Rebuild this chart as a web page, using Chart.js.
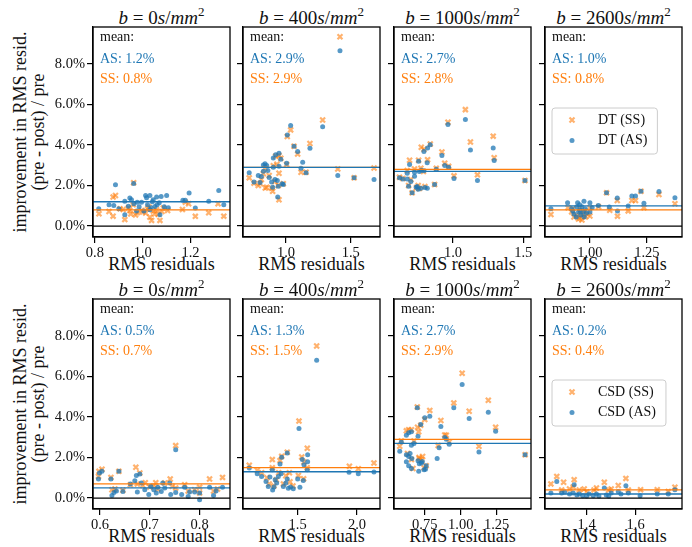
<!DOCTYPE html>
<html>
<head>
<meta charset="utf-8">
<script src="https://cdn.jsdelivr.net/npm/chart.js@4"></script>
<style>
  body { margin: 0; background: #fff; }
  #wrap { position: relative; width: 692px; height: 547px; font-family: 'Liberation Serif', 'Times New Roman', serif; color: #111; overflow: hidden; }
  canvas { position: absolute; }
  .ttl { position: absolute; width: 137px; text-align: center; font-size: 19px; line-height: 20px; white-space: nowrap; }
  .ttl sup { font-size: 13px; line-height: 0; vertical-align: 8px; }
  .xl { position: absolute; width: 137px; text-align: center; font-size: 18px; line-height: 20px; white-space: nowrap; }
  .yl { position: absolute; width: 230px; height: 36px; text-align: center; font-size: 18px; line-height: 18px; transform: rotate(-90deg); white-space: nowrap; }
</style>
</head>
<body>
<div id="wrap"></div>
<script>
// ---- data ----
const models = ['DT', 'CSD'];
const bValues = [0, 400, 1000, 2600];
const yTicks = [0, 2, 4, 6, 8];
const yTickLabels = ['0.0%', '2.0%', '4.0%', '6.0%', '8.0%'];
const xTickLabels = [
  [['0.8', '1.0', '1.2'], ['1.0', '1.5'], ['1.0', '1.5'], ['1.00', '1.25']],
  [['0.6', '0.7', '0.8'], ['1.5', '2.0'], ['0.75', '1.00', '1.25'], ['1.4', '1.6']]
];
const meanAS = [[1.2, 2.9, 2.7, 1.0], [0.5, 1.3, 2.7, 0.2]];
const meanSS = [[0.8, 2.9, 2.8, 0.8], [0.7, 1.5, 2.9, 0.4]];

// [RMS residuals, improvement %]
const dt0_as = [[0.816,0.86],[0.859,1.05],[0.879,1.02],[0.886,2.04],[0.925,1.23],[0.946,1.38],[0.953,1.30],[0.962,2.10],[0.963,1.10],[0.977,1.17],[0.995,1.17],[1.012,1.51],[1.016,1.40],[1.030,1.51],[1.044,1.30],[1.058,1.43],[1.077,1.46],[1.100,1.51],[1.069,1.15],[1.051,0.97],[1.030,0.81],[1.072,0.56],[1.005,0.74],[0.974,0.74],[0.925,0.56],[1.107,0.91],[1.168,1.27],[1.178,1.27],[1.194,1.63],[1.220,0.89],[1.276,1.22],[1.318,1.76],[1.339,1.05],[0.900,0.85],[0.940,0.98],[1.020,1.05],[1.040,1.20],[1.060,1.05],[0.985,0.95],[1.090,0.95],[1.035,0.90]];
const dt0_ss = [[0.817,0.61],[0.859,0.72],[0.876,1.43],[0.886,1.51],[0.876,0.49],[0.918,0.82],[0.925,0.32],[0.946,0.77],[0.962,2.14],[0.960,1.05],[0.977,0.66],[0.995,0.77],[1.012,0.64],[1.026,0.94],[1.030,0.44],[1.037,0.28],[1.044,0.74],[1.058,0.81],[1.065,0.58],[1.072,0.28],[1.086,0.89],[1.104,0.77],[1.166,0.82],[1.178,1.18],[1.192,1.10],[1.220,0.48],[1.276,0.66],[1.315,1.10],[1.339,0.49],[0.950,0.60],[0.970,0.55],[1.000,0.70],[1.020,0.85],[1.050,0.60],[1.080,0.72],[0.940,0.90],[0.905,0.85]];
const dt400_as = [[0.716,2.63],[0.753,2.17],[0.786,2.50],[0.800,2.15],[0.825,2.71],[0.825,3.01],[0.838,3.08],[0.851,2.99],[0.889,2.17],[0.897,1.92],[0.902,2.90],[0.902,3.36],[0.920,3.52],[0.946,3.60],[0.946,2.95],[0.933,2.25],[0.940,1.97],[0.936,1.43],[0.971,2.09],[0.979,2.05],[1.010,4.50],[1.036,4.96],[1.062,3.94],[1.090,3.68],[1.005,3.10],[1.129,3.15],[1.116,2.86],[1.155,2.63],[1.185,3.84],[1.283,4.91],[1.417,8.66],[1.400,2.50],[1.526,2.38],[1.680,2.30],[0.810,2.45],[0.870,2.40],[0.915,2.30],[0.960,3.30],[0.860,2.75]];
const dt400_ss = [[0.716,2.38],[0.753,2.12],[0.786,2.00],[0.800,2.10],[0.825,2.58],[0.838,2.85],[0.851,1.92],[0.840,1.88],[0.889,1.87],[0.897,1.72],[0.902,2.98],[0.920,3.45],[0.946,3.48],[0.946,2.61],[0.946,1.30],[0.979,2.09],[1.010,4.42],[1.036,4.75],[1.062,3.94],[1.090,3.56],[1.005,3.04],[1.116,2.66],[1.155,2.66],[1.185,4.08],[1.283,5.24],[1.417,9.35],[1.400,2.82],[1.526,2.38],[1.680,2.87],[0.810,2.30],[0.870,2.50],[0.915,2.20],[0.940,2.00],[0.960,3.35],[0.930,3.05]];
const dt1000_as = [[0.619,2.38],[0.643,2.33],[0.674,2.61],[0.674,2.33],[0.684,1.96],[0.691,3.04],[0.709,1.64],[0.726,2.66],[0.726,2.46],[0.738,1.92],[0.752,1.82],[0.755,3.20],[0.771,1.87],[0.774,2.76],[0.793,3.68],[0.793,2.73],[0.817,1.87],[0.816,3.13],[0.819,3.86],[0.838,4.02],[0.869,2.05],[0.881,2.81],[0.921,3.48],[0.941,2.99],[0.964,5.01],[0.969,2.91],[1.007,2.35],[1.088,5.26],[1.124,3.76],[1.174,2.25],[1.286,3.86],[1.293,3.24],[1.512,2.25],[0.700,2.20],[0.745,1.95],[0.760,2.70],[0.800,1.90]];
const dt1000_ss = [[0.619,2.41],[0.674,2.74],[0.684,2.00],[0.691,3.25],[0.709,1.64],[0.726,2.82],[0.752,2.00],[0.755,3.25],[0.771,2.86],[0.774,3.89],[0.793,3.79],[0.819,3.28],[0.838,4.05],[0.869,2.05],[0.881,2.85],[0.921,3.66],[0.941,3.10],[0.964,5.13],[0.969,2.95],[1.007,2.48],[1.088,5.75],[1.124,4.15],[1.174,2.53],[1.286,4.44],[1.293,3.37],[1.512,2.25],[0.643,2.35],[0.700,2.30],[0.740,1.90],[0.800,1.95],[0.790,2.70],[0.760,1.85]];
const dt2600_as = [[0.829,0.86],[0.902,1.15],[0.920,0.86],[0.942,0.94],[0.946,1.15],[0.956,0.78],[0.930,0.60],[0.940,0.45],[0.950,0.70],[0.960,0.55],[0.965,0.95],[0.970,0.70],[0.975,0.45],[0.980,0.85],[0.985,0.65],[0.974,1.22],[1.000,1.15],[1.000,0.70],[1.010,0.90],[1.037,1.02],[1.073,1.64],[1.085,0.94],[1.120,1.38],[1.121,0.74],[1.168,0.99],[1.184,1.48],[1.200,1.48],[1.224,1.72],[1.237,1.13],[1.303,1.71],[1.373,1.40],[0.925,0.75],[0.955,1.05]];
const dt2600_ss = [[0.829,0.57],[0.904,0.91],[0.920,0.70],[0.942,0.53],[0.956,0.40],[0.930,0.45],[0.950,0.35],[0.960,0.60],[0.965,0.30],[0.970,0.55],[0.975,0.75],[0.980,0.45],[0.990,0.60],[1.000,0.91],[1.000,0.50],[1.038,0.95],[1.073,1.64],[1.087,0.78],[1.120,1.26],[1.121,0.49],[1.168,0.75],[1.184,1.26],[1.200,1.26],[1.224,1.72],[1.237,0.91],[1.303,1.56],[1.373,1.10],[0.925,0.85],[0.955,0.90]];
const csd0_as = [[0.597,0.94],[0.599,1.24],[0.604,1.32],[0.622,0.94],[0.624,0.13],[0.628,0.28],[0.633,0.35],[0.638,1.32],[0.646,0.33],[0.661,0.69],[0.670,0.86],[0.673,1.11],[0.675,0.30],[0.680,1.19],[0.683,0.74],[0.690,0.41],[0.698,0.17],[0.702,0.58],[0.708,0.41],[0.713,0.25],[0.716,0.54],[0.723,0.33],[0.726,0.74],[0.730,0.50],[0.740,0.74],[0.742,0.17],[0.752,0.28],[0.752,2.39],[0.764,0.17],[0.770,0.53],[0.777,0.08],[0.780,0.30],[0.790,0.30],[0.800,-0.08],[0.800,0.25],[0.820,0.53],[0.828,0.13],[0.833,0.35],[0.846,0.54]];
const csd0_ss = [[0.597,1.07],[0.598,1.32],[0.604,1.42],[0.622,1.02],[0.624,0.41],[0.630,0.45],[0.638,1.32],[0.646,0.38],[0.661,0.66],[0.672,1.52],[0.680,1.24],[0.675,0.69],[0.686,0.62],[0.691,0.76],[0.700,0.55],[0.708,0.60],[0.712,0.76],[0.716,0.45],[0.730,0.74],[0.741,0.94],[0.745,0.58],[0.752,2.59],[0.752,0.50],[0.770,0.66],[0.777,0.35],[0.790,0.41],[0.800,0.54],[0.800,0.25],[0.820,0.94],[0.828,0.35],[0.836,0.45],[0.846,1.02]];
const csd400_as = [[1.092,1.49],[1.159,1.20],[1.196,1.07],[1.233,0.82],[1.252,0.57],[1.266,1.04],[1.286,1.40],[1.289,0.40],[1.300,0.55],[1.323,0.74],[1.337,1.07],[1.351,1.68],[1.365,2.01],[1.379,0.57],[1.412,0.94],[1.421,0.49],[1.440,0.55],[1.463,0.46],[1.412,2.23],[1.500,0.94],[1.519,0.53],[1.511,3.43],[1.539,1.90],[1.547,0.87],[1.553,1.65],[1.584,2.14],[1.584,1.79],[1.581,1.40],[1.660,6.81],[1.933,1.27],[2.011,1.20],[2.143,1.29],[1.310,0.90],[1.360,1.20],[1.400,0.75]];
const csd400_ss = [[1.092,1.62],[1.159,1.37],[1.196,1.25],[1.240,1.00],[1.260,0.70],[1.286,1.90],[1.286,1.50],[1.300,0.60],[1.320,0.90],[1.351,1.85],[1.365,2.06],[1.380,0.70],[1.412,2.26],[1.430,1.25],[1.435,0.80],[1.460,0.60],[1.506,1.12],[1.511,3.80],[1.534,2.03],[1.553,1.78],[1.581,2.46],[1.580,1.50],[1.550,0.95],[1.660,7.51],[1.936,1.57],[2.011,1.45],[2.143,1.73],[1.340,1.25],[1.400,1.10]];
const csd1000_as = [[0.576,2.31],[0.587,2.77],[0.622,3.10],[0.638,3.22],[0.657,3.27],[0.622,2.14],[0.638,2.05],[0.648,2.20],[0.660,1.95],[0.622,1.79],[0.638,1.59],[0.657,1.46],[0.657,2.61],[0.675,2.69],[0.698,4.46],[0.703,3.05],[0.708,1.32],[0.703,1.84],[0.712,1.70],[0.722,3.63],[0.727,1.73],[0.733,1.80],[0.750,3.96],[0.745,1.40],[0.755,1.42],[0.760,1.60],[0.785,4.04],[0.836,1.95],[0.850,2.49],[0.862,3.53],[0.889,2.99],[0.900,2.90],[0.920,2.66],[0.952,4.46],[1.010,5.61],[1.059,3.93],[1.127,2.28],[1.192,4.24],[1.243,3.30],[1.448,2.14]];
const csd1000_ss = [[0.576,2.56],[0.587,2.82],[0.622,3.32],[0.638,3.37],[0.657,3.37],[0.630,2.20],[0.657,1.90],[0.668,1.46],[0.675,2.82],[0.698,4.50],[0.708,3.27],[0.712,1.95],[0.722,3.60],[0.727,1.91],[0.735,2.05],[0.750,3.88],[0.745,1.50],[0.760,1.60],[0.785,4.33],[0.843,2.59],[0.862,3.83],[0.889,3.12],[0.900,3.10],[0.920,2.77],[0.952,4.70],[1.010,6.16],[1.059,4.29],[1.127,2.56],[1.192,4.83],[1.243,3.50],[1.448,2.14],[0.700,3.50],[0.710,2.00]];
const csd2600_as = [[1.254,0.25],[1.278,0.82],[1.298,0.25],[1.310,0.30],[1.330,0.20],[1.345,0.25],[1.349,0.66],[1.360,0.15],[1.370,0.20],[1.384,0.11],[1.400,0.10],[1.410,0.20],[1.427,0.11],[1.440,0.20],[1.450,0.10],[1.472,0.50],[1.480,0.15],[1.490,0.10],[1.500,0.25],[1.529,0.33],[1.540,0.20],[1.560,0.61],[1.570,0.25],[1.618,0.11],[1.688,0.20],[1.733,0.20],[1.760,0.41]];
const csd2600_ss = [[1.254,0.70],[1.278,1.07],[1.298,0.40],[1.306,0.78],[1.330,0.45],[1.345,0.55],[1.349,0.91],[1.370,0.40],[1.390,0.45],[1.400,0.30],[1.430,0.40],[1.440,0.50],[1.472,0.78],[1.490,0.40],[1.500,0.45],[1.529,0.62],[1.560,0.97],[1.570,0.40],[1.620,0.41],[1.688,0.41],[1.733,0.33],[1.760,0.54]];

const asData = [[dt0_as, dt400_as, dt1000_as, dt2600_as], [csd0_as, csd400_as, csd1000_as, csd2600_as]];
const ssData = [[dt0_ss, dt400_ss, dt1000_ss, dt2600_ss], [csd0_ss, csd400_ss, csd1000_ss, csd2600_ss]];

// ---- layout / style ----
const xRange = [
  [[0.792, 1.365], [0.668, 1.726], [0.58, 1.555], [0.803, 1.404]],
  [[0.586, 0.861], [1.039, 2.194], [0.536, 1.489], [1.230, 1.789]]
];
const yMin = -0.54, yMax = 9.83;
const colLeft = [93, 243, 394, 545];
const rowTop = [27, 299];
const PW = 137, PH = 210;
const padL = 60, padT = 30, padR = 10, padB = 40;

const BLUE = '#1f77b4', ORANGE = '#ff7f0e';
const BLUE_A = 'rgba(31,119,180,0.75)', ORANGE_A = 'rgba(255,127,14,0.6)';
const FONT = "'Liberation Serif', 'Times New Roman', serif";

const panelText = {
  id: 'panelText',
  afterDraw(chart, args, o) {
    const ctx = chart.ctx, a = chart.chartArea;
    ctx.save();
    ctx.strokeStyle = '#000';
    ctx.lineWidth = 1.3;
    ctx.strokeRect(a.left, a.top, a.right - a.left, a.bottom - a.top);

    ctx.font = '14px ' + FONT;
    ctx.textBaseline = 'alphabetic';
    ctx.textAlign = 'left';
    ctx.fillStyle = '#111';
    ctx.fillText('mean:', a.left + 7, a.top + 14);
    ctx.fillStyle = BLUE;
    ctx.fillText('AS: ' + o.as.toFixed(1) + '%', a.left + 7, a.top + 36);
    ctx.fillStyle = ORANGE;
    ctx.fillText('SS: ' + o.ss.toFixed(1) + '%', a.left + 7, a.top + 56);

    if (o.legend) {
      const t1 = o.legend + ' (SS)', t2 = o.legend + ' (AS)';
      const tw = Math.max(ctx.measureText(t1).width, ctx.measureText(t2).width);
      const bx = a.left + 7, by = a.top + 81, bw = 46 + tw + 10, bh = 46;
      ctx.beginPath();
      if (ctx.roundRect) ctx.roundRect(bx, by, bw, bh, 3); else ctx.rect(bx, by, bw, bh);
      ctx.fillStyle = 'rgba(255,255,255,0.8)';
      ctx.fill();
      ctx.strokeStyle = '#cccccc';
      ctx.lineWidth = 1;
      ctx.stroke();

      const mx = a.left + 27, y1 = a.top + 93, y2 = a.top + 113.5;
      ctx.strokeStyle = ORANGE_A;
      ctx.lineWidth = 2.2;
      ctx.beginPath();
      ctx.moveTo(mx - 2.5, y1 - 2.5); ctx.lineTo(mx + 2.5, y1 + 2.5);
      ctx.moveTo(mx - 2.5, y1 + 2.5); ctx.lineTo(mx + 2.5, y1 - 2.5);
      ctx.stroke();
      ctx.fillStyle = BLUE_A;
      ctx.beginPath();
      ctx.arc(mx, y2, 2.5, 0, Math.PI * 2);
      ctx.fill();

      ctx.fillStyle = '#111';
      ctx.textBaseline = 'middle';
      ctx.fillText(t1, bx + 46, y1);
      ctx.fillText(t2, bx + 46, y2);
    }
    ctx.restore();
  }
};

const wrap = document.getElementById('wrap');
const toXY = arr => arr.map(p => ({ x: p[0], y: p[1] }));

function addDiv(cls, html, left, top) {
  const d = document.createElement('div');
  d.className = cls;
  d.innerHTML = html;
  d.style.left = left + 'px';
  d.style.top = top + 'px';
  wrap.appendChild(d);
}

for (let r = 0; r < 2; r++) {
  addDiv('yl', 'improvement in RMS resid.<br>(pre - post) / pre', 29 - 115, rowTop[r] + PH / 2 - 18);
  for (let c = 0; c < 4; c++) {
    const left = colLeft[c], top = rowTop[r];
    const [x0, x1] = xRange[r][c];
    const xt = xTickLabels[r][c];

    addDiv('ttl', '<i>b</i> = ' + bValues[c] + '<i>s</i>/<i>mm</i><sup>2</sup>', left, top - 19);
    addDiv('xl', 'RMS residuals', left, top + PH + 17);

    const cv = document.createElement('canvas');
    cv.width = PW + padL + padR;
    cv.height = PH + padT + padB;
    cv.style.left = (left - padL) + 'px';
    cv.style.top = (top - padT) + 'px';
    wrap.appendChild(cv);

    const hline = (y, color, order) => ({
      type: 'line', data: [{ x: x0, y: y }, { x: x1, y: y }],
      borderColor: color, borderWidth: 1.3, pointRadius: 0, showLine: true, order: order
    });

    new Chart(cv.getContext('2d'), {
      type: 'scatter',
      data: {
        datasets: [
          { label: models[r] + ' (AS)', data: toXY(asData[r][c]), pointStyle: 'circle', pointRadius: 2.5,
            backgroundColor: BLUE_A, borderWidth: 0, order: 1 },
          { label: models[r] + ' (SS)', data: toXY(ssData[r][c]), pointStyle: 'crossRot', pointRadius: 3.5,
            borderColor: ORANGE_A, backgroundColor: ORANGE_A, borderWidth: 2.2, order: 2 },
          hline(meanAS[r][c], BLUE, 0),
          hline(meanSS[r][c], ORANGE, 0),
          hline(0, '#000', 0)
        ]
      },
      options: {
        responsive: false,
        animation: false,
        events: [],
        layout: { padding: { left: 0, top: padT, right: padR, bottom: 0 } },
        plugins: {
          legend: { display: false },
          tooltip: { enabled: false },
          panelText: { as: meanAS[r][c], ss: meanSS[r][c], legend: c === 3 ? models[r] : null }
        },
        scales: {
          x: {
            type: 'linear', min: x0, max: x1,
            afterBuildTicks: ax => { ax.ticks = xt.map(s => ({ value: parseFloat(s) })); },
            afterFit: ax => { ax.height = padB; },
            ticks: { autoSkip: false, maxRotation: 0, padding: 1, color: '#111',
                     font: { family: FONT, size: 14.5 }, callback: (v, i) => xt[i] },
            grid: { drawOnChartArea: false, tickLength: 6, color: '#000', lineWidth: 1.2 },
            border: { color: '#000', width: 1.3 }
          },
          y: {
            type: 'linear', min: yMin, max: yMax,
            afterBuildTicks: ax => { ax.ticks = yTicks.map(v => ({ value: v })); },
            afterFit: ax => { ax.width = padL; },
            ticks: { display: c === 0, padding: 2, color: '#111',
                     font: { family: FONT, size: 14.5 }, callback: (v, i) => yTickLabels[i] },
            grid: { drawOnChartArea: false, tickLength: 6, color: '#000', lineWidth: 1.2 },
            border: { color: '#000', width: 1.3 }
          }
        }
      },
      plugins: [panelText]
    });
  }
}
</script>
</body>
</html>
